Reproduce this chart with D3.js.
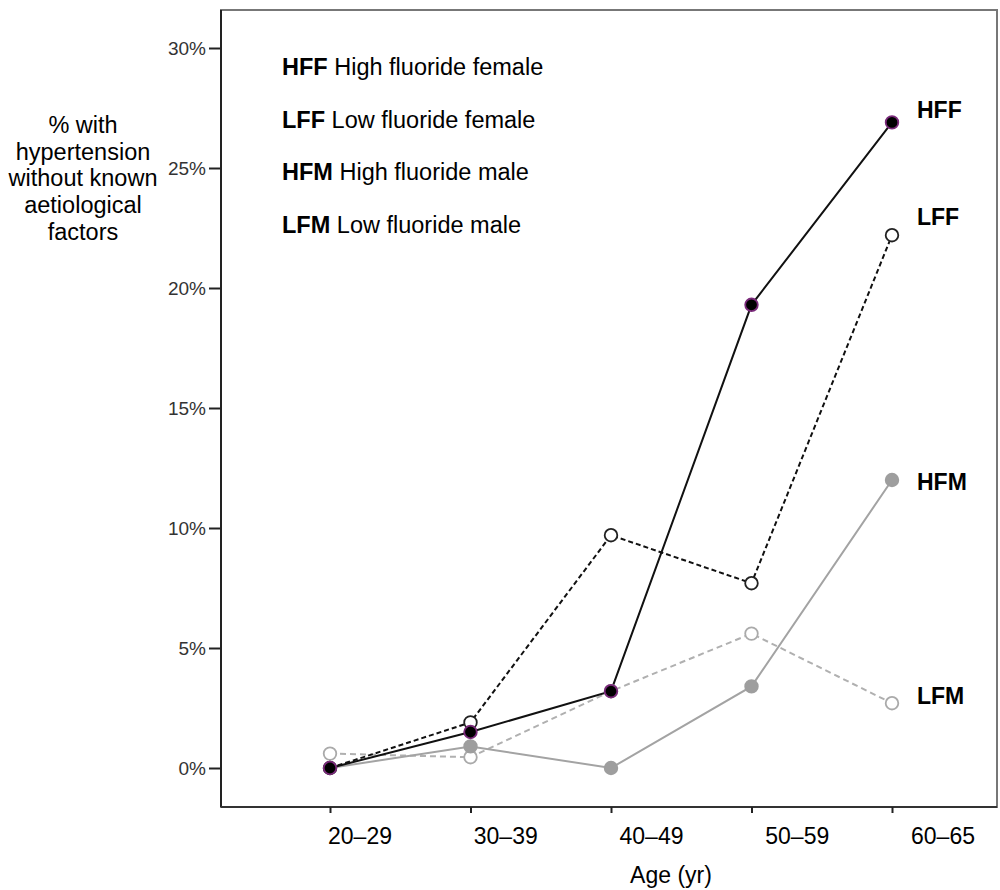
<!DOCTYPE html>
<html>
<head>
<meta charset="utf-8">
<script src="https://cdn.jsdelivr.net/npm/d3@7"></script>
<style>
  body { margin: 0; background: #fff; }
  svg { display: block; font-family: "Liberation Sans", Arial, sans-serif; }
</style>
</head>
<body>
<div id="chart-area"></div>
<script>
// data
var ages = ["20–29", "30–39", "40–49", "50–59", "60–65"];
var hff = [0, 1.5, 3.2, 19.3, 26.9];
var lff = [0, 1.9, 9.7, 7.7, 22.2];
var hfm = [0, 0.9, 0, 3.4, 12.0];
var lfm = [0.6, 0.45, 3.2, 5.6, 2.7];
var yTicks = [0, 5, 10, 15, 20, 25, 30];
var legendCodes = ["HFF", "LFF", "HFM", "LFM"];
var legendNames = ["High fluoride female", "Low fluoride female", "High fluoride male", "Low fluoride male"];
var yTitle = ["% with", "hypertension", "without known", "aetiological", "factors"];

var W = 1000, H = 890;
var frame = { left: 221, top: 10, right: 997, bottom: 807 };

var svg = d3.select("#chart-area").append("svg")
  .attr("width", W)
  .attr("height", H);

// scales
var x = d3.scalePoint().domain(ages).range([330, 892]);
var xLab = d3.scalePoint().domain(ages).range([360, 943]);
var y = d3.scaleLinear().domain([0, 30]).range([768, 48]);

// frame
svg.append("rect")
  .attr("x", frame.left).attr("y", frame.top)
  .attr("width", frame.right - frame.left)
  .attr("height", frame.bottom - frame.top)
  .attr("fill", "none")
  .attr("stroke", "#777")
  .attr("stroke-width", 2);
svg.append("line")
  .attr("x1", frame.left).attr("x2", frame.left)
  .attr("y1", frame.top).attr("y2", frame.bottom)
  .attr("stroke", "#222").attr("stroke-width", 2);
svg.append("line")
  .attr("x1", frame.left).attr("x2", frame.right)
  .attr("y1", frame.bottom).attr("y2", frame.bottom)
  .attr("stroke", "#333").attr("stroke-width", 2);

// y axis
var yAxis = svg.append("g")
  .attr("transform", "translate(" + frame.left + ",0)")
  .call(d3.axisLeft(y).tickValues(yTicks).tickFormat(d => d + "%").tickSize(12).tickPadding(3));
yAxis.select(".domain").remove();
yAxis.selectAll("line").attr("stroke", "#222").attr("stroke-width", 2);
yAxis.selectAll("text")
  .attr("font-size", 19)
  .attr("font-family", "Liberation Sans, Arial, sans-serif")
  .attr("fill", "#333");

// x axis
var xAxis = svg.append("g")
  .attr("transform", "translate(0," + frame.bottom + ")")
  .call(d3.axisBottom(x).tickFormat("").tickSize(6));
xAxis.select(".domain").remove();
xAxis.selectAll("line").attr("stroke", "#222").attr("stroke-width", 2);

svg.append("g").selectAll("text")
  .data(ages)
  .join("text")
  .attr("x", d => xLab(d))
  .attr("y", 844)
  .attr("text-anchor", "middle")
  .attr("font-size", 23)
  .text(d => d);

svg.append("text")
  .attr("x", 671).attr("y", 883)
  .attr("text-anchor", "middle")
  .attr("font-size", 23)
  .text("Age (yr)");

// y title
svg.append("g").selectAll("text")
  .data(yTitle)
  .join("text")
  .attr("x", 83)
  .attr("y", (d, i) => 133 + i * 26.7)
  .attr("text-anchor", "middle")
  .attr("font-size", 23.5)
  .text(d => d);

// legend
var leg = svg.append("g").selectAll("text")
  .data(legendCodes)
  .join("text")
  .attr("x", 282)
  .attr("y", (d, i) => 75 + i * 52.7)
  .attr("font-size", 23.5);
leg.append("tspan").attr("font-weight", "bold").text(d => d);
leg.append("tspan").text((d, i) => " " + legendNames[i]);

// series
var series = [
  { code: "LFM", vals: lfm, line: "#b0b0b0", dash: "6,4", fill: "#fff", stroke: "#aaa", labDy: -7 },
  { code: "HFM", vals: hfm, line: "#a3a3a3", dash: null, fill: "#9e9e9e", stroke: "#9e9e9e", labDy: 2 },
  { code: "LFF", vals: lff, line: "#111", dash: "5,3", fill: "#fff", stroke: "#222", labDy: -18 },
  { code: "HFF", vals: hff, line: "#111", dash: null, fill: "#000", stroke: "#7a2a7a", labDy: -12 }
];

var line = d3.line()
  .x((d, i) => x(ages[i]))
  .y(d => y(d));

svg.append("g").selectAll("path")
  .data(series)
  .join("path")
  .attr("d", s => line(s.vals))
  .attr("fill", "none")
  .attr("stroke", s => s.line)
  .attr("stroke-width", 2)
  .attr("stroke-dasharray", s => s.dash);

series.forEach(s => {
  svg.append("g").selectAll("circle")
    .data(s.vals)
    .join("circle")
    .attr("cx", (d, i) => x(ages[i]))
    .attr("cy", d => y(d))
    .attr("r", 6.3)
    .attr("fill", s.fill)
    .attr("stroke", s.stroke)
    .attr("stroke-width", 1.8);
});

// end labels
svg.append("g").selectAll("text")
  .data(series)
  .join("text")
  .attr("x", 917)
  .attr("y", s => y(s.vals[s.vals.length - 1]) + s.labDy + 8)
  .attr("font-size", 23)
  .attr("font-weight", "bold")
  .text(s => s.code);
</script>
</body>
</html>
